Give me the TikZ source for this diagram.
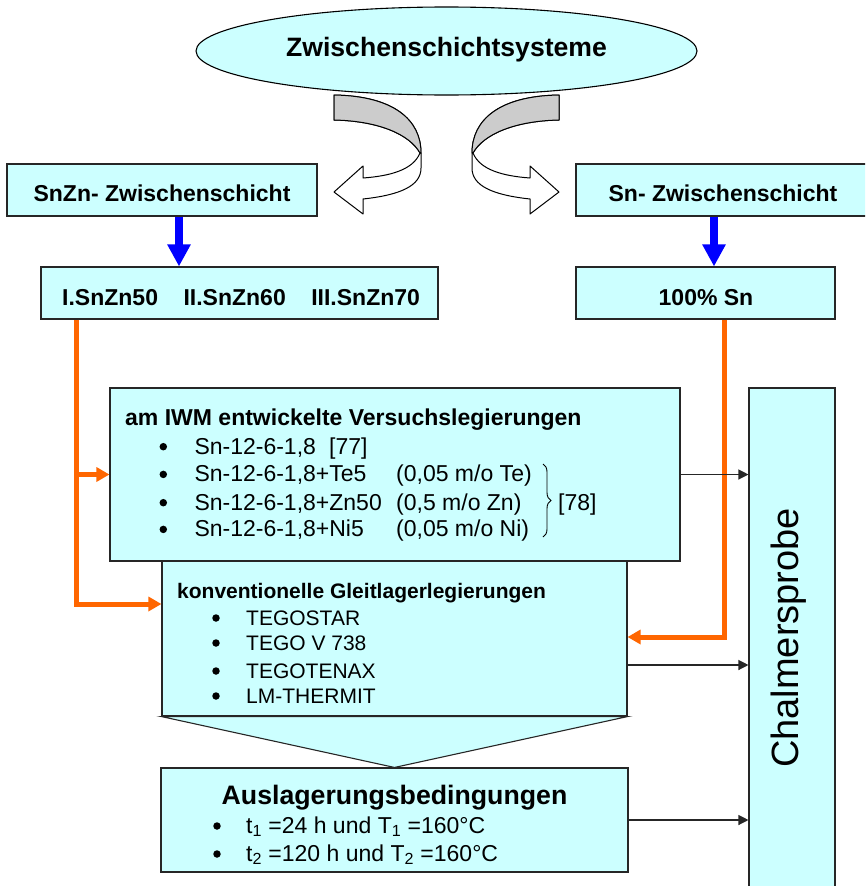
\documentclass[tikz,border=0pt]{standalone}
\usepackage{fontspec}
\setmainfont{Liberation Sans}
\usetikzlibrary{shapes.geometric,arrows.meta,decorations.pathreplacing}
\definecolor{boxcyan}{HTML}{CCFFFF}
\definecolor{orng}{HTML}{FF6600}
\definecolor{blu}{HTML}{0000FF}
\definecolor{ribgray}{HTML}{CCCCCC}
\newcommand{\myfs}[1]{\fontsize{#1}{#1}\selectfont}
\begin{document}
\begin{tikzpicture}[x=1pt,y=-1pt,
  box/.style={draw=black!85, line width=1.1pt, fill=boxcyan, inner sep=0pt, rectangle},
  txt/.style={inner sep=0pt, anchor=base west},
  ctxt/.style={inner sep=0pt, anchor=base},
  bul/.style={circle, fill=black, inner sep=0pt, minimum size=7.5pt},
  bluearrow/.style={draw=blu, line width=8pt, -{Triangle[length=22pt,width=22pt,fill=blu]}},
  oarrow/.style={draw=orng, line width=5pt, line join=miter, -{Triangle[length=13pt,width=14pt,fill=orng]}},
  karrow/.style={draw=black!85, line width=1.2pt, -{Triangle[length=10pt,width=10pt]}},
  ribbon/.style={draw=black, line width=1pt, line join=round},
]
\path[use as bounding box] (0,0) rectangle (865,886);
\clip (0,0) rectangle (865,886);

% title ellipse
\node[draw=black, line width=1.1pt, fill=boxcyan, ellipse, minimum width=501pt, minimum height=88pt, inner sep=0pt] (top) at (446.5,51) {};
\node[ctxt] (toptxt) at (446.5,56.7) {\myfs{26.6}\bfseries Zwischenschichtsysteme};

% curved ribbon arrows
\begin{scope}
\filldraw[ribbon, fill=white] (334,95) .. controls (394,96) and (421,120) .. (421,153) -- (421,168) .. controls (421,186) and (400,195) .. (363,199) -- (363,214) -- (334,192) -- (363,166) -- (363,178) .. controls (390,176) and (413,170) .. (420,153) .. controls (410,135) and (380,121) .. (334,120) -- cycle;
\filldraw[ribbon, fill=ribgray] (334,95) .. controls (394,96) and (421,120) .. (421,153) -- (420,153) .. controls (410,135) and (380,121) .. (334,120) -- cycle;
\end{scope}
\begin{scope}[shift={(893,0)}, xscale=-1]
\filldraw[ribbon, fill=white] (334,95) .. controls (394,96) and (421,120) .. (421,153) -- (421,168) .. controls (421,186) and (400,195) .. (363,199) -- (363,214) -- (334,192) -- (363,166) -- (363,178) .. controls (390,176) and (413,170) .. (420,153) .. controls (410,135) and (380,121) .. (334,120) -- cycle;
\filldraw[ribbon, fill=ribgray] (334,95) .. controls (394,96) and (421,120) .. (421,153) -- (420,153) .. controls (410,135) and (380,121) .. (334,120) -- cycle;
\end{scope}

% second row
\node[box, minimum width=310pt, minimum height=52pt] (snzn) at (162,190) {};
\node[ctxt] (snzntxt) at (162,201) {\myfs{23}\bfseries SnZn- Zwischenschicht};
\node[box, minimum width=294pt, minimum height=52pt] (sn) at (723,190) {};
\node[ctxt] (sntxt) at (723,201) {\myfs{23}\bfseries Sn- Zwischenschicht};

% third row
\node[box, minimum width=397pt, minimum height=52pt] (alloys) at (239.5,293) {};
\node[txt] (alloystxt) at (62,305) {\myfs{23}\bfseries I.SnZn50\hspace{25.5pt}II.SnZn60\hspace{25.5pt}III.SnZn70};
\node[box, minimum width=259pt, minimum height=52pt] (hundred) at (705.5,293) {};
\node[ctxt] (hundredtxt) at (706,305) {\myfs{23}\bfseries 100\% Sn};

% Versuchslegierungen
\node[box, minimum width=570pt, minimum height=173pt] (versuch) at (395,474.5) {};
\node[txt] (vh) at (125,425.7) {\myfs{23}\bfseries am IWM entwickelte Versuchslegierungen};
\node[bul] (vb1) at (163.3,446.7) {};
\node[bul] (vb2) at (163.3,474.4) {};
\node[bul] (vb3) at (163.3,502.7) {};
\node[bul] (vb4) at (163.3,529.4) {};
\node[txt] (vi1) at (194.3,454) {\myfs{23}Sn-12-6-1,8};
\node[txt] (vi1r) at (329,454) {\myfs{23}[77]};
\node[txt] (vi2) at (194.3,481.7) {\myfs{23}Sn-12-6-1,8+Te5};
\node[txt] (vi3) at (194.3,510) {\myfs{23}Sn-12-6-1,8+Zn50};
\node[txt] (vi4) at (194.3,536.7) {\myfs{23}Sn-12-6-1,8+Ni5};
\node[txt] (vc2) at (396,481.7) {\myfs{23}(0,05 m/o Te)};
\node[txt] (vc3) at (396,510) {\myfs{23}(0,5 m/o Zn)};
\node[txt] (vc4) at (396,536.7) {\myfs{23}(0,05 m/o Ni)};
\coordinate (brtop) at (543,464);
\coordinate (brbot) at (543,537);
\draw[line width=0.9pt, decorate, decoration={brace, amplitude=8pt}] (brtop) -- (brbot);
\node[txt] (vref) at (558,510) {\myfs{23}[78]};

% konventionelle
\node[box, minimum width=465pt, minimum height=155pt] (konv) at (394.5,638.5) {};
\node[box, minimum width=467pt, minimum height=104pt] (ausl) at (394.5,820) {};
\filldraw[draw=black!85, line width=1.1pt, fill=boxcyan, line join=miter] (konv.south west) -- (konv.south east) -- (ausl.north) -- cycle;
\node[txt] (kh) at (177,598) {\myfs{21}\bfseries konventionelle Gleitlagerlegierungen};
\node[bul] (kb1) at (216,618) {};
\node[bul] (kb2) at (216,643) {};
\node[bul] (kb3) at (216,671) {};
\node[bul] (kb4) at (216,696) {};
\node[txt] (ki1) at (246,625) {\myfs{21}TEGOSTAR};
\node[txt] (ki2) at (246,650) {\myfs{21}TEGO V 738};
\node[txt] (ki3) at (246,678) {\myfs{21}TEGOTENAX};
\node[txt] (ki4) at (246,703) {\myfs{21}LM-THERMIT};

% Auslagerung
\node[ctxt] (ah) at (394.5,804) {\myfs{26.7}\bfseries Auslagerungsbedingungen};
\node[bul] (ab1) at (217,826) {};
\node[bul] (ab2) at (217,854) {};
\node[txt] (ai1) at (246,833) {\myfs{23}t\textsubscript{1} =24 h und T\textsubscript{1} =160°C};
\node[txt] (ai2) at (246,861) {\myfs{23}t\textsubscript{2} =120 h und T\textsubscript{2} =160°C};

% Chalmersprobe
\node[box, minimum width=86pt, minimum height=520pt] (chal) at (792,648) {};
\node[rotate=90, inner sep=0pt] (chaltxt) at (789,638) {\myfs{38}Chalmersprobe};

% connectors
\draw[bluearrow] ([xshift=17pt]snzn.south) -- ([xshift=17pt]snzn.south |- alloys.north);
\draw[bluearrow] ([xshift=-9pt]sn.south) -- ([xshift=-9pt]sn.south |- hundred.north);

\coordinate (oL) at (76,604);
\coordinate (oR) at (724,637);
\draw[oarrow] (alloys.south -| oL) -- (oL) -- (oL -| konv.west);
\draw[oarrow] (versuch.west -| oL) -- (versuch.west);
\draw[oarrow] (hundred.south -| oR) -- (oR) -- (oR -| konv.east);

\draw[karrow] (versuch.east) -- (versuch.east -| chal.west);
\draw[karrow] ([yshift=-26.5pt]konv.east) -- ([yshift=-26.5pt]konv.east -| chal.west);
\draw[karrow] (ausl.east) -- (ausl.east -| chal.west);
\end{tikzpicture}
\end{document}
